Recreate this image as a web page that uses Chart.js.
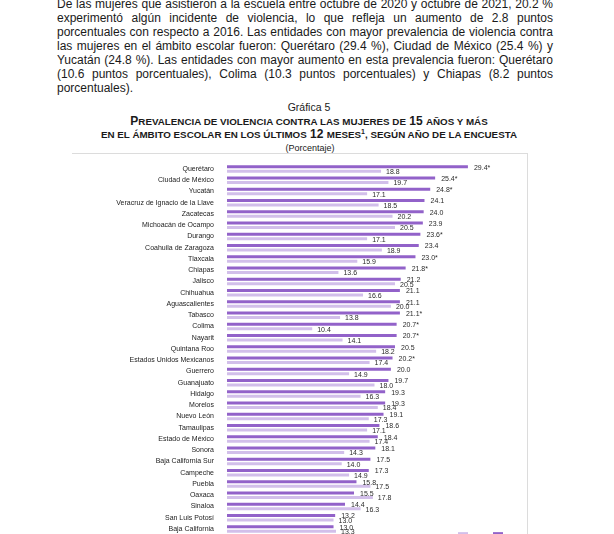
<!DOCTYPE html>
<html>
<head>
<meta charset="utf-8">
<script src="https://cdn.jsdelivr.net/npm/chart.js@4/dist/chart.umd.min.js"></script>
<style>
  html, body { margin: 0; padding: 0; background: #fff; }
  body { width: 614px; height: 534px; position: relative; overflow: hidden; font-family: "Liberation Sans", Arial, sans-serif; color: #1a1a1a; }
  #para { position: absolute; left: 57px; top: -3px; width: 496px; font-size: 12px; line-height: 14px; }
  #para .j { text-align: justify; text-align-last: justify; }
  #title { position: absolute; left: 0; width: 614px; top: 101px; text-align: center; }
  #title .g { font-size: 10.5px; line-height: 13.5px; margin-left: 4px; }
  #title .h { font-size: 12px; line-height: 13.5px; font-weight: bold; margin-left: 4px; white-space: nowrap; }
  #title .sc { font-size: 9.8px; }
  #title sup { font-size: 7px; line-height: 0; vertical-align: 4px; }
  #title .p { font-size: 9px; line-height: 12px; margin-left: 6px; }
  #frame { position: absolute; left: 72px; top: 153px; width: 456px; height: 500px; border-top: 1px solid #dcdcdc; border-right: 1px solid #dcdcdc; box-sizing: border-box; }
  #wrap { position: absolute; left: 0; top: 150px; width: 614px; height: 400px; }
</style>
</head>
<body>
<div id="para">
  <div class="j">De las mujeres que asistieron a la escuela entre octubre de 2020 y octubre de 2021, 20.2 %</div>
  <div class="j">experimentó algún incidente de violencia, lo que refleja un aumento de 2.8 puntos</div>
  <div class="j">porcentuales con respecto a 2016. Las entidades con mayor prevalencia de violencia contra</div>
  <div class="j">las mujeres en el ámbito escolar fueron: Querétaro (29.4 %), Ciudad de México (25.4 %) y</div>
  <div class="j">Yucatán (24.8 %). Las entidades con mayor aumento en esta prevalencia fueron: Querétaro</div>
  <div class="j">(10.6 puntos porcentuales), Colima (10.3 puntos porcentuales) y Chiapas (8.2 puntos</div>
  <div>porcentuales).</div>
</div>
<div id="frame"></div>
<div id="title">
  <div class="g">Gráfica 5</div>
  <div class="h">P<span class="sc">REVALENCIA DE VIOLENCIA CONTRA LAS MUJERES DE</span> 15 <span class="sc">AÑOS Y MÁS</span></div>
  <div class="h"><span class="sc">EN EL ÁMBITO ESCOLAR EN LOS ÚLTIMOS</span> 12 <span class="sc">MESES</span><sup>1</sup><span class="sc">, SEGÚN AÑO DE LA ENCUESTA</span></div>
  <div class="p">(Porcentaje)</div>
</div>
<div id="wrap"><canvas id="c"></canvas></div>
<script>
const categories = [
  "Querétaro", "Ciudad de México", "Yucatán", "Veracruz de Ignacio de la Llave", "Zacatecas",
  "Michoacán de Ocampo", "Durango", "Coahuila de Zaragoza", "Tlaxcala", "Chiapas",
  "Jalisco", "Chihuahua", "Aguascalientes", "Tabasco", "Colima",
  "Nayarit", "Quintana Roo", "Estados Unidos Mexicanos", "Guerrero", "Guanajuato",
  "Hidalgo", "Morelos", "Nuevo León", "Tamaulipas", "Estado de México",
  "Sonora", "Baja California Sur", "Campeche", "Puebla", "Oaxaca",
  "Sinaloa", "San Luis Potosí", "Baja California"
];
const values2021 = [
  29.4, 25.4, 24.8, 24.1, 24.0,
  23.9, 23.6, 23.4, 23.0, 21.8,
  21.2, 21.1, 21.1, 21.1, 20.7,
  20.7, 20.5, 20.2, 20.0, 19.7,
  19.3, 19.3, 19.1, 18.6, 18.4,
  18.1, 17.5, 17.3, 15.8, 15.5,
  14.4, 13.2, 13.0
];
const values2016 = [
  18.8, 19.7, 17.1, 18.5, 20.2,
  20.5, 17.1, 18.9, 15.9, 13.6,
  20.5, 16.6, 20.0, 13.8, 10.4,
  14.1, 18.2, 17.4, 14.9, 18.0,
  16.3, 18.4, 17.3, 17.1, 17.4,
  14.3, 14.0, 14.9, 17.5, 17.8,
  16.3, 13.0, 13.3
];
const significant2021 = [
  true, true, true, false, false,
  false, true, false, true, true,
  false, false, false, true, true,
  true, false, true, false, false,
  false, false, false, false, false,
  false, false, false, false, false,
  false, false, false
];
const seriesNames = ["2021", "2016"];

const DARK = "#9262c9";
const LIGHT = "#d2bfea";

const labelPlugin = {
  id: "valueLabels",
  afterDatasetsDraw(chart) {
    const ctx = chart.ctx;
    ctx.save();
    ctx.font = '7px "Liberation Sans", Arial, sans-serif';
    ctx.fillStyle = "#2a2a2a";
    ctx.textBaseline = "middle";
    ctx.textAlign = "left";
    chart.data.datasets.forEach((ds, i) => {
      const meta = chart.getDatasetMeta(i);
      meta.data.forEach((bar, j) => {
        let t = ds.data[j].toFixed(1);
        if (i === 0 && significant2021[j]) t += "*";
        ctx.fillText(t, bar.x + (i === 0 ? 6 : 5), bar.y + 1);
      });
    });
    const a = chart.chartArea;
    ctx.fillStyle = LIGHT;
    ctx.fillRect(458, a.bottom - 2.5, 10, 10);
    ctx.fillStyle = DARK;
    ctx.fillRect(493, a.bottom - 2.5, 10, 10);
    ctx.restore();
  }
};

new Chart(document.getElementById("c"), {
  type: "bar",
  data: {
    labels: categories,
    datasets: [
      { label: seriesNames[0], data: values2021, backgroundColor: DARK, categoryPercentage: 0.8, barPercentage: 0.65 },
      { label: seriesNames[1], data: values2016, backgroundColor: LIGHT, categoryPercentage: 0.8, barPercentage: 0.65 }
    ]
  },
  options: {
    indexAxis: "y",
    responsive: true,
    maintainAspectRatio: false,
    animation: false,
    layout: { padding: { left: 0, right: 92, top: 13.4, bottom: 15.35 } },
    plugins: { legend: { display: false }, tooltip: { enabled: false } },
    scales: {
      x: { display: false, min: 0, max: 36 },
      y: {
        grid: { display: false },
        border: { display: false },
        ticks: {
          padding: 5,
          color: "#222",
          font: { family: '"Liberation Sans", Arial, sans-serif', size: 7 },
          autoSkip: false
        },
        afterFit(scale) { scale.width = 227; }
      }
    }
  },
  plugins: [labelPlugin]
});
</script>
</body>
</html>
